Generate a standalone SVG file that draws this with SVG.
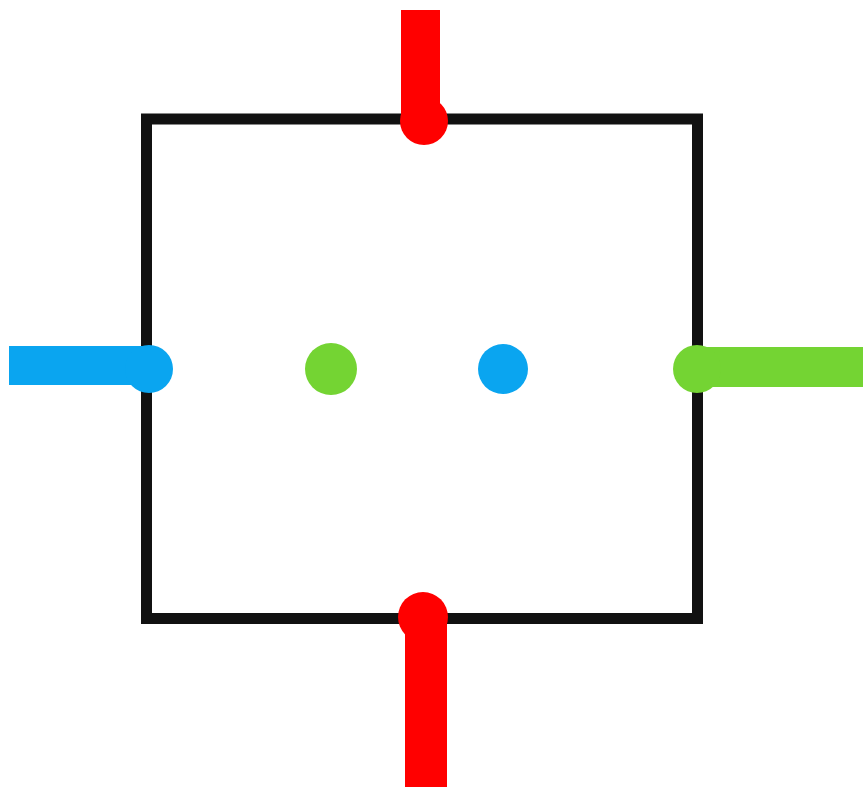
<svg xmlns="http://www.w3.org/2000/svg" width="863" height="787" viewBox="0 0 863 787">
<style>
.box{fill:none;stroke:#111;stroke-width:11}
.red{fill:#ff0000}
.blue{fill:#0aa5f0}
.green{fill:#74d433}
</style>
<rect width="863" height="787" fill="#fff"/>
<g id="box"><rect class="box" x="146.5" y="119" width="551" height="499.5"/></g>
<g id="connectors">
<rect class="red" x="401" y="10" width="39" height="110"/>
<circle class="red" cx="424" cy="121" r="24"/>
<rect class="red" x="405" y="617" width="42" height="170"/>
<circle class="red" cx="423" cy="617" r="25"/>
<rect class="blue" x="9" y="346" width="140" height="39"/>
<circle class="blue" cx="149" cy="369" r="24"/>
<rect class="green" x="697" y="347" width="166" height="40"/>
<circle class="green" cx="697" cy="369" r="24"/>
</g>
<g id="dot-green"><circle class="green" cx="331" cy="369" r="26"/></g>
<g id="dot-blue"><circle class="blue" cx="503" cy="369" r="25"/></g>
</svg>
